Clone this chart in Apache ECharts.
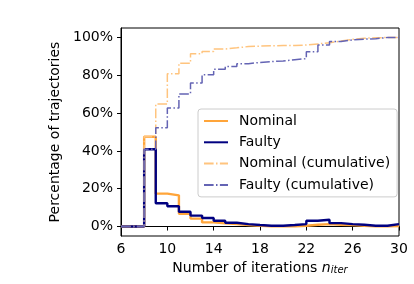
<!DOCTYPE html>
<html>
<head>
<meta charset="utf-8">
<script src="https://cdn.jsdelivr.net/npm/echarts@6/dist/echarts.min.js"></script>
<style>html,body{margin:0;padding:0;background:#fff}#c{width:414px;height:284px}</style>
</head>
<body>
<div id="c"></div>
<script>
// Bin left edges (bin width 1), last entry is the right edge of the final bin
const binEdges = [6,7,8,9,10,11,12,13,14,15,16,17,18,19,20,21,22,23,24,25,26,27,28,29,30];
// Percent of trajectories per bin (bins 6..29)
const nominal = [0,0,47.5,17.4,16.5,6.8,4.2,2.2,1.7,1.3,0.8,0.45,0.1,0.1,0.1,0.45,0.95,1.3,0.95,0.8,0.45,0.1,0.1,0.2];
const faulty  = [0,0,40.9,12.3,10.7,7.8,5.8,4.5,3.1,2.0,1.3,0.8,0.45,0.45,0.8,1.3,3.1,3.6,1.8,1.3,0.95,0.45,0.45,1.3];
const nominalCum = [0,0,47.5,64.8,80.8,86.4,91.4,92.6,93.9,94.5,95.2,95.4,95.6,95.7,95.8,96.0,96.6,97.2,98.1,99.0,99.6,99.8,100,100];
const faultyCum  = [0,0,40.9,52.3,62.7,70.1,75.9,80.3,83.2,84.6,86.1,86.8,87.2,87.6,88.2,88.8,92.5,96.0,97.8,98.7,99.1,99.3,100,100];
const xTicks = [6,10,14,18,22,26,30];
const yTicks = [0,20,40,60,80,100];
const seriesNames = ['Nominal','Faulty','Nominal (cumulative)','Faulty (cumulative)'];

function stepData(vals){
  const d = vals.map((v,i)=>[binEdges[i], v]);
  d.push([binEdges[vals.length], vals[vals.length-1]]);
  return d;
}
const FONT = 'DejaVu Sans';
const chart = echarts.init(document.getElementById('c'), null, {renderer:'canvas'});
const dash = [9.6,2.4,1.5,2.4];
chart.setOption({
  animation:false,
  backgroundColor:'#fff',
  textStyle:{fontFamily:FONT},
  grid:{left:121,right:15,top:28,bottom:48,show:true,borderColor:'#000',borderWidth:1,backgroundColor:'transparent'},
  xAxis:{
    type:'value',min:6,max:30,
    axisLine:{show:true,lineStyle:{color:'#000',width:1}},
    axisTick:{show:true,length:4,lineStyle:{color:'#000'},customValues:xTicks},
    axisLabel:{color:'#000',fontSize:14,fontFamily:FONT,margin:6,customValues:xTicks},
    splitLine:{show:false},
    name:'{a|Number of iterations }{n|n}{s|iter}',
    nameLocation:'middle',nameGap:23,
    nameTextStyle:{rich:{
      a:{fontSize:14,fontFamily:FONT,color:'#000'},
      n:{fontSize:14,fontFamily:FONT,fontStyle:'italic',color:'#000'},
      s:{fontSize:10,fontFamily:FONT,fontStyle:'italic',color:'#000',padding:[6,0,0,0]}
    }}
  },
  yAxis:{
    type:'value',min:-5,max:105,
    axisLine:{show:true,lineStyle:{color:'#000',width:1}},
    axisTick:{show:true,length:4,lineStyle:{color:'#000'},customValues:yTicks},
    axisLabel:{color:'#000',fontSize:14,fontFamily:FONT,margin:8,customValues:yTicks,formatter:v=>v+'%'},
    splitLine:{show:false},
    name:'Percentage of trajectories',nameLocation:'middle',nameGap:47,
    nameTextStyle:{color:'#000',fontSize:14,fontFamily:FONT}
  },
  legend:{
    data:seriesNames,orient:'vertical',left:198,top:109,
    itemWidth:24,itemHeight:14,itemGap:7.3,padding:[5,7,5,5],
    itemStyle:{opacity:0},
    backgroundColor:'rgba(255,255,255,0.8)',borderColor:'#cccccc',borderWidth:1,borderRadius:3,
    textStyle:{color:'#000',fontSize:14,fontFamily:FONT,padding:[0,0,0,6]}
  },
  series:[
    {name:seriesNames[0],type:'line',step:'end',data:stepData(nominal),symbol:'none',showSymbol:false,
     lineStyle:{color:'#ffa53a',width:2.4},itemStyle:{color:'#ffa53a'},z:2},
    {name:seriesNames[1],type:'line',step:'end',data:stepData(faulty),symbol:'none',showSymbol:false,
     lineStyle:{color:'#000080',width:2.4},itemStyle:{color:'#000080'},z:3},
    {name:seriesNames[2],type:'line',step:'end',data:stepData(nominalCum),symbol:'none',showSymbol:false,
     lineStyle:{color:'#ffc47e',width:1.5,type:dash},itemStyle:{color:'#ffc47e'},z:4},
    {name:seriesNames[3],type:'line',step:'end',data:stepData(faultyCum),symbol:'none',showSymbol:false,
     lineStyle:{color:'#6464b4',width:1.5,type:dash},itemStyle:{color:'#6464b4'},z:5}
  ]
});
</script>
</body>
</html>
